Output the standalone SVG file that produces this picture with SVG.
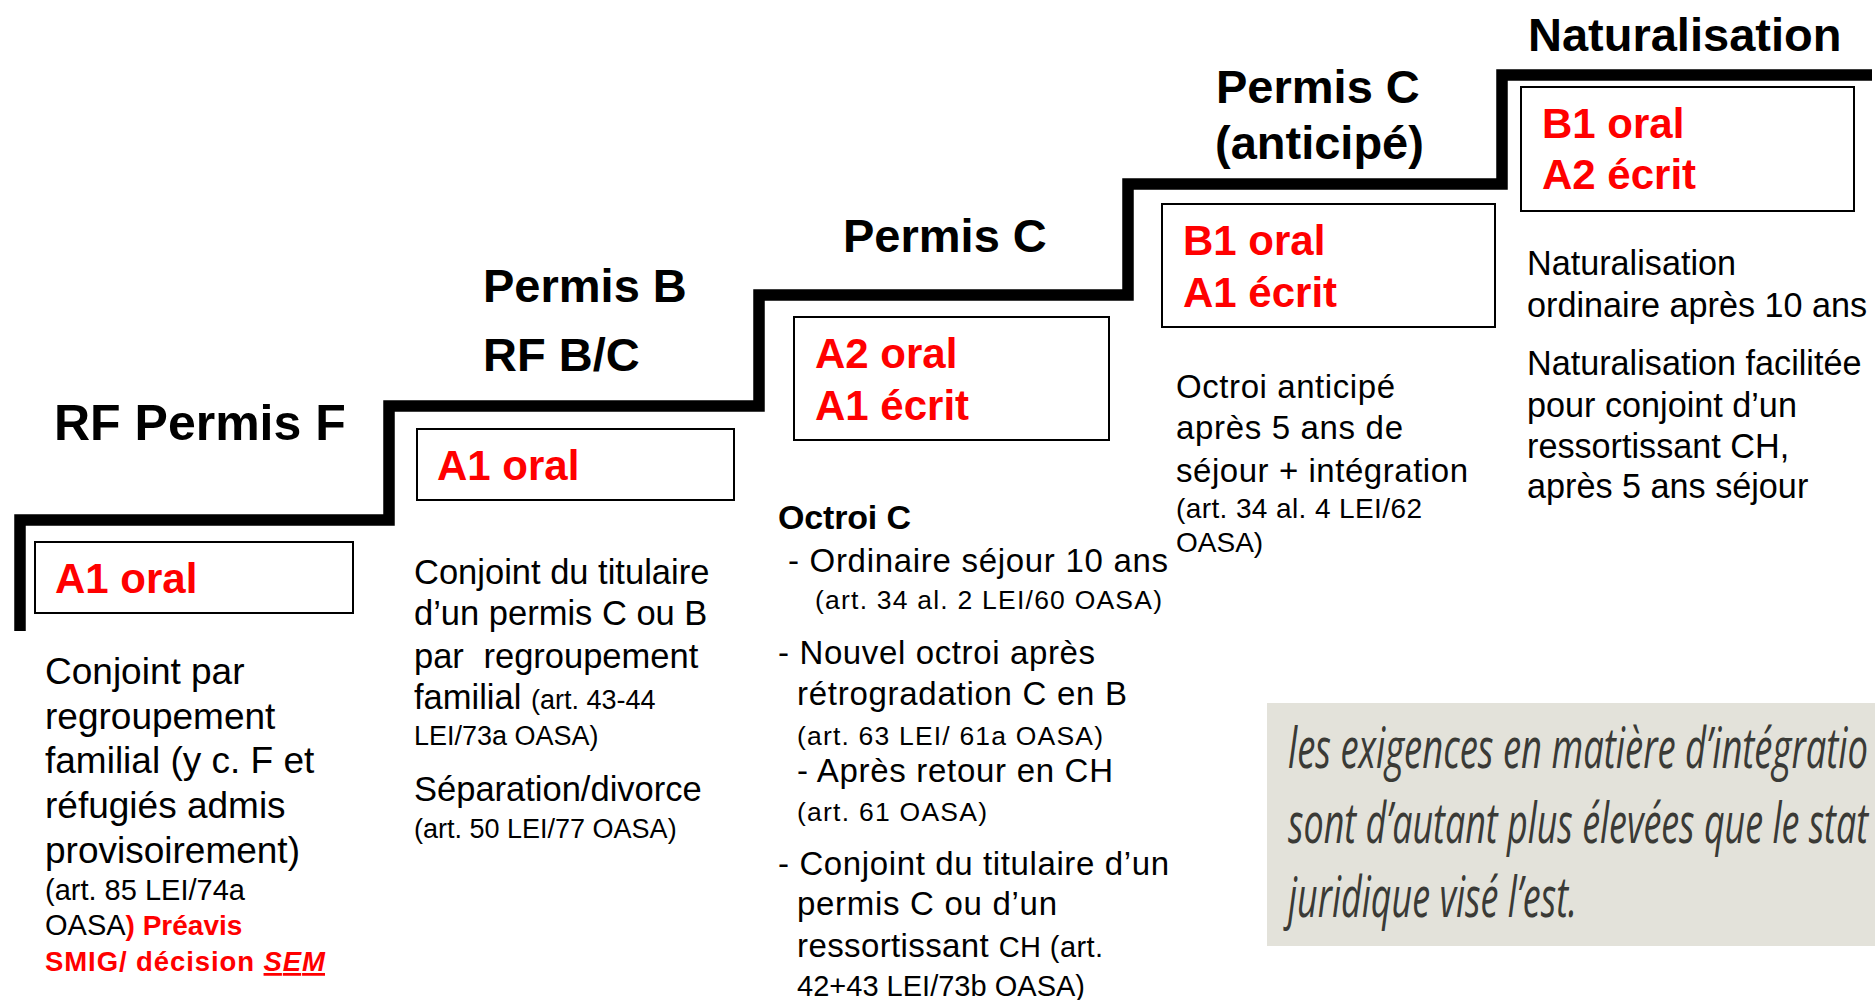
<svg xmlns="http://www.w3.org/2000/svg" width="1875" height="1000" viewBox="0 0 1875 1000">
<style>
text{font-family:"Liberation Sans",Arial,Helvetica,sans-serif;fill:#000}
.h{font-size:47px;font-weight:bold}
.lvl{font-size:42px;font-weight:bold;fill:#ff0000}
.box{fill:#fff;stroke:#000;stroke-width:2}
.b1{font-size:37px}
.s1{font-size:29px}
.b2{font-size:34.5px}
.s2{font-size:27px}
.b3{font-size:33px}
.s3{font-size:26.5px}
.b4{font-size:33px}
.s4{font-size:28px}
.b5{font-size:34.2px}
.red{fill:#ff0000;font-weight:bold}
.quote{font-family:"Open Sans","Noto Sans",sans-serif;font-style:italic;font-size:56px;fill:#3a3a36}
</style>
<rect width="1875" height="1000" fill="#fff"/>
<g id="connectors">
<polyline points="20,631 20,520 389,520 389,406 759,406 759,295 1128,295 1128,184 1502,184 1502,75 1872,75" fill="none" stroke="#000" stroke-width="11.5" stroke-linejoin="miter" stroke-linecap="butt"/>
</g>
<g id="step-rf-permis-f">
<text class="h" x="54" y="440" style="font-size:50px">RF Permis F</text>
<rect class="box" x="35" y="542" width="318" height="71"/>
<text class="lvl" x="55" y="593">A1 oral</text>
<text class="b1" x="45" y="684">Conjoint par</text>
<text class="b1" x="45" y="729">regroupement</text>
<text class="b1" x="45" y="773">familial (y c. F et</text>
<text class="b1" x="45" y="818">réfugiés admis</text>
<text class="b1" x="45" y="863">provisoirement)</text>
<text class="s1" x="45" y="900">(art. 85 LEI/74a</text>
<text class="s1" x="45" y="935">OASA<tspan class="red" style="font-size:28px">) Préavis</tspan></text>
<text class="red" x="45" y="971" style="font-size:27.5px" textLength="280" lengthAdjust="spacing">SMIG/ décision <tspan style="font-style:italic;text-decoration:underline">SEM</tspan></text>
</g>
<g id="step-permis-b">
<text class="h" x="483" y="302">Permis B</text>
<text class="h" x="483" y="371">RF B/C</text>
<rect class="box" x="417" y="429" width="317" height="71"/>
<text class="lvl" x="437" y="480">A1 oral</text>
<text class="b2" x="414" y="584">Conjoint du titulaire</text>
<text class="b2" x="414" y="625">d’un permis C ou B</text>
<text class="b2" x="414" y="668">par <tspan dx="10">regroupement</tspan></text>
<text class="b2" x="414" y="709">familial <tspan class="s2">(art. 43-44</tspan></text>
<text class="s2" x="414" y="745">LEI/73a OASA)</text>
<text class="b2" x="414" y="801">Séparation/divorce</text>
<text class="s2" x="414" y="838">(art. 50 LEI/77 OASA)</text>
</g>
<g id="step-permis-c">
<text class="h" x="843" y="252">Permis C</text>
<rect class="box" x="794" y="317" width="315" height="123"/>
<text class="lvl" x="815" y="368">A2 oral</text>
<text class="lvl" x="815" y="420">A1 écrit</text>
<text x="778" y="529" style="font-size:34px;font-weight:bold" textLength="133" lengthAdjust="spacing">Octroi C</text>
<text class="b3" x="788" y="572" textLength="380" lengthAdjust="spacing">- Ordinaire séjour 10 ans</text>
<text class="s3" x="815" y="609" textLength="347" lengthAdjust="spacing">(art. 34 al. 2 LEI/60 OASA)</text>
<text class="b3" x="778" y="664" textLength="317" lengthAdjust="spacing">- Nouvel octroi après</text>
<text class="b3" x="797" y="705" textLength="330" lengthAdjust="spacing">rétrogradation C en B</text>
<text class="s3" x="797" y="745" textLength="306" lengthAdjust="spacing">(art. 63 LEI/ 61a OASA)</text>
<text class="b3" x="797" y="782" textLength="316" lengthAdjust="spacing">- Après retour en CH</text>
<text class="s3" x="797" y="821" textLength="190" lengthAdjust="spacing">(art. 61 OASA)</text>
<text class="b3" x="778" y="875" textLength="391" lengthAdjust="spacing">- Conjoint du titulaire d’un</text>
<text class="b3" x="797" y="915" textLength="260" lengthAdjust="spacing">permis C ou d’un</text>
<text class="b3" x="797" y="957" textLength="306" lengthAdjust="spacing">ressortissant <tspan style="font-size:29px">CH (art.</tspan></text>
<text x="797" y="996" style="font-size:29px" textLength="288" lengthAdjust="spacing">42+43 LEI/73b OASA)</text>
</g>
<g id="step-permis-c-anticipe">
<text class="h" x="1216" y="103">Permis C</text>
<text class="h" x="1215" y="159">(anticipé)</text>
<rect class="box" x="1162" y="204" width="333" height="123"/>
<text class="lvl" x="1183" y="255">B1 oral</text>
<text class="lvl" x="1183" y="307">A1 écrit</text>
<text class="b4" x="1176" y="398" textLength="219" lengthAdjust="spacing">Octroi anticipé</text>
<text class="b4" x="1176" y="439" textLength="227" lengthAdjust="spacing">après 5 ans de</text>
<text class="b4" x="1176" y="482" textLength="292" lengthAdjust="spacing">séjour + intégration</text>
<text class="s4" x="1176" y="518" textLength="246" lengthAdjust="spacing">(art. 34 al. 4 LEI/62</text>
<text class="s4" x="1176" y="552">OASA)</text>
</g>
<g id="step-naturalisation">
<text class="h" x="1528" y="51">Naturalisation</text>
<rect class="box" x="1521" y="87" width="333" height="124"/>
<text class="lvl" x="1542" y="138">B1 oral</text>
<text class="lvl" x="1542" y="189">A2 écrit</text>
<text class="b5" x="1527" y="275">Naturalisation</text>
<text class="b5" x="1527" y="317">ordinaire après 10 ans</text>
<text class="b5" x="1527" y="375">Naturalisation facilitée</text>
<text class="b5" x="1527" y="417">pour conjoint d’un</text>
<text class="b5" x="1527" y="458">ressortissant CH,</text>
<text class="b5" x="1527" y="498">après 5 ans séjour</text>
</g>
<g id="note">
<rect x="1267" y="703" width="608" height="243" fill="#e3e2da"/>
<text class="quote" x="1288" y="768" textLength="580" lengthAdjust="spacingAndGlyphs">les exigences en matière d’intégratio</text>
<text class="quote" x="1288" y="843" textLength="580" lengthAdjust="spacingAndGlyphs">sont d’autant plus élevées que le stat</text>
<text class="quote" x="1288" y="917" textLength="289" lengthAdjust="spacingAndGlyphs">juridique visé l’est.</text>
</g>
</svg>
